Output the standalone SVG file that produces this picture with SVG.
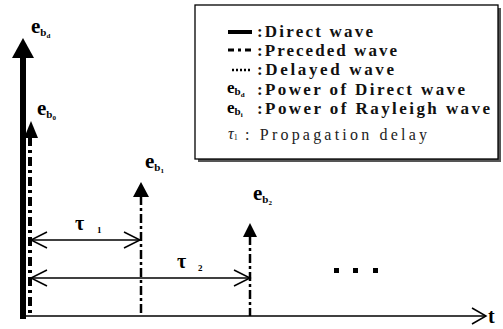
<svg xmlns="http://www.w3.org/2000/svg" width="503" height="329" viewBox="0 0 503 329">
<defs>
<style>
.lbl{font-family:Liberation Serif,serif;font-weight:bold;fill:#000}
.leg{font-family:Liberation Serif,serif;font-weight:bold;font-size:17px;fill:#111}
.reg{font-family:Liberation Serif,serif;font-size:16px;fill:#222}
.sub{font-size:11px}
.sub2{font-size:7px}
.thin{stroke:#000;stroke-width:1.5;fill:none}
.dd{stroke:#000;fill:none}
</style>
</defs>
<rect width="503" height="329" fill="#fff"/>
<g id="legend">
<rect x="198" y="8" width="303" height="154" fill="#555"/>
<rect x="195" y="5" width="303" height="154" fill="#fff" stroke="#000" stroke-width="1.3"/>
<line x1="228" y1="32" x2="252" y2="32" stroke="#000" stroke-width="4"/>
<line x1="228" y1="50" x2="252" y2="50" stroke="#000" stroke-width="3" stroke-dasharray="6 4 3 4"/>
<line x1="232" y1="70" x2="252" y2="70" stroke="#000" stroke-width="2.5" stroke-dasharray="2 2"/>
<text class="leg" x="257" y="37" textLength="116" lengthAdjust="spacing">:Direct wave</text>
<text class="leg" x="257" y="56" textLength="140" lengthAdjust="spacing">:Preceded wave</text>
<text class="leg" x="257" y="75" textLength="137" lengthAdjust="spacing">:Delayed wave</text>
<text class="lbl" x="227" y="93" font-size="17">e<tspan class="sub" font-size="10" dy="2">b</tspan><tspan class="sub2" font-size="6" dy="1.5">d</tspan></text>
<text class="leg" x="257" y="95" textLength="208" lengthAdjust="spacing">:Power of  Direct wave</text>
<text class="lbl" x="227" y="113" font-size="17">e<tspan class="sub" font-size="10" dy="2">b</tspan><tspan class="sub2" font-size="6" dy="1.5">i</tspan></text>
<text class="leg" x="257" y="114" textLength="233" lengthAdjust="spacing">:Power of  Rayleigh wave</text>
<text class="reg" x="228" y="139" font-style="italic" font-size="17">τ<tspan font-size="8" font-style="normal" dy="1">1</tspan></text>
<text class="reg" x="245" y="140" textLength="182" lengthAdjust="spacing">: Propagation delay</text>
</g>
<g id="direct">
<line x1="23" y1="56" x2="23" y2="319" stroke="#000" stroke-width="6"/>
<polygon points="23,38 12,58 34,58" fill="#000"/>
<text class="lbl" x="31" y="33" font-size="21">e<tspan class="sub" dy="3">b</tspan><tspan class="sub2" dy="2">d</tspan></text>
</g>
<g id="preceded">
<line class="dd" x1="30" y1="137" x2="30" y2="316" stroke-width="4" stroke-dasharray="9 4 3 4"/>
<polygon points="31,121 24,138 38,138" fill="#000"/>
<text class="lbl" x="37" y="115" font-size="21">e<tspan class="sub" dy="3">b</tspan><tspan class="sub2" dy="2">0</tspan></text>
</g>
<g id="ray1">
<line class="dd" x1="141" y1="196" x2="141" y2="316" stroke-width="2.5" stroke-dasharray="9 3 3 3"/>
<polygon points="141,182 133,197 149,197" fill="#000"/>
<text class="lbl" x="145" y="168" font-size="21">e<tspan class="sub" dy="3">b</tspan><tspan class="sub2" dy="2">1</tspan></text>
</g>
<g id="ray2">
<line class="dd" x1="250" y1="236" x2="250" y2="316" stroke-width="2.5" stroke-dasharray="9 3 3 3"/>
<polygon points="250,223 243,237 257,237" fill="#000"/>
<text class="lbl" x="253" y="200" font-size="21">e<tspan class="sub" dy="3">b</tspan><tspan class="sub2" dy="2">2</tspan></text>
</g>
<g id="connectors">
<line class="thin" x1="26" y1="316" x2="486" y2="316"/>
<polyline class="thin" points="472,308 486,316 472,324"/>
<line class="thin" x1="31" y1="240" x2="140" y2="240"/>
<polyline class="thin" points="47,232 31,240 47,248"/>
<polyline class="thin" points="124,232 140,240 124,248"/>
<line class="thin" x1="31" y1="278" x2="250" y2="278"/>
<polyline class="thin" points="47,270 31,278 47,286"/>
<polyline class="thin" points="234,270 250,278 234,286"/>
</g>
<g id="labels">
<text class="lbl" x="75" y="230" font-size="20">τ</text>
<text class="lbl" x="97" y="233" font-size="9">1</text>
<text class="lbl" x="177" y="268" font-size="20">τ</text>
<text class="lbl" x="198" y="271" font-size="9">2</text>
<text class="lbl" x="488" y="323" font-size="20">t</text>
<rect x="334" y="268" width="5" height="5" fill="#000"/>
<rect x="353" y="268" width="5" height="5" fill="#000"/>
<rect x="373" y="268" width="5" height="5" fill="#000"/>
</g>
</svg>
